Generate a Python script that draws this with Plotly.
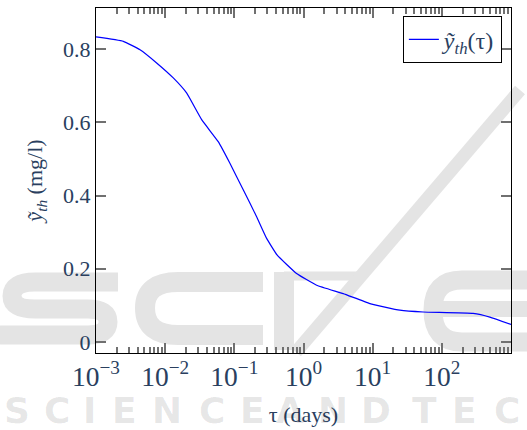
import plotly.graph_objects as go

# Threshold concentration curve vs. time horizon (log scale)
tau = [1e-3, 2.48e-3, 4.33e-3, 7.53e-3, 1.31e-2, 2.04e-2, 3.37e-2, 5.85e-2,
       8.63e-2, 0.135, 0.210, 0.293, 0.417, 0.794, 1.55, 3.75, 9.12,
       24.7, 53.7, 283.0, 494.0, 1000.0]
y_th = [0.833, 0.821, 0.798, 0.762, 0.721, 0.680, 0.607, 0.547,
        0.488, 0.415, 0.342, 0.283, 0.237, 0.187, 0.155, 0.132, 0.105,
        0.087, 0.082, 0.078, 0.068, 0.048]

# plotly writes 10^0 and 10^1 as "1" and "10"; show them as powers too
x_label_alias = {"1": "10<sup>0</sup>", "10": "10<sup>1</sup>"}
y_tickvals = [0, 0.2, 0.4, 0.6, 0.8]
y_ticktext = ["0", "0.2", "0.4", "0.6", "0.8"]

W, H = 527, 430
ML, MR, MT, MB = 96, 16, 8, 77
serif = "Liberation Serif"
tick_grey = "#707070"

fig = go.Figure()
fig.add_trace(go.Scatter(
    x=tau, y=y_th, mode="lines",
    line=dict(color="#0000ff", width=1.2, shape="spline", smoothing=0.35),
    name="<i>ỹ<sub>th</sub></i>(τ)",
))

fig.update_xaxes(
    type="log", range=[-3, 3], tick0=0, dtick=1,
    exponentformat="power", labelalias=x_label_alias,
    ticks="inside", ticklen=10, tickcolor=tick_grey, tickwidth=1.5,
    minor=dict(ticks="inside", ticklen=6, tickcolor=tick_grey, tickwidth=1.5),
    showline=True, linecolor="black", linewidth=1, mirror="ticks",
    showgrid=False,
    tickfont=dict(family=serif, size=22),
    title=dict(text="τ (days)", font=dict(family=serif, size=22)),
)
fig.update_yaxes(
    range=[-0.03, 0.912],
    tickvals=y_tickvals, ticktext=y_ticktext,
    ticks="inside", ticklen=10, tickcolor=tick_grey, tickwidth=1.5,
    showline=True, linecolor="black", linewidth=1, mirror="ticks",
    showgrid=False, zeroline=False,
    tickfont=dict(family=serif, size=22),
    title=dict(text="<i>ỹ<sub>th</sub></i> (mg/l)",
               font=dict(family=serif, size=22), standoff=14),
)


# --- faint publisher logo watermark (pixel positions -> paper coords) ---
def px(x):
    return (x - ML) / (W - ML - MR)


def py(y):
    return (H - MB - y) / (H - MT - MB)


def path(points):
    out = []
    for p in points:
        if p[0] == "Q":
            out.append(f"Q{px(p[1]):.4f},{py(p[2]):.4f} {px(p[3]):.4f},{py(p[4]):.4f}")
        else:
            out.append(f"{p[0]}{px(p[1]):.4f},{py(p[2]):.4f}")
    return " ".join(out)


wm = "#e4e4e4"
strokes = [
    # S
    ([("M", 118, 282), ("L", 35, 282), ("Q", 12, 282, 12, 296), ("Q", 12, 309, 35, 309),
      ("L", 88, 309), ("Q", 108, 309, 108, 322), ("Q", 108, 335, 88, 335), ("L", 0, 335)], 19),
    # C
    ([("M", 263, 282), ("L", 178, 282), ("Q", 145, 282, 145, 308),
      ("Q", 145, 335, 178, 335), ("L", 263, 335)], 20),
    # I
    ([("M", 284, 272), ("L", 284, 350)], 20),
    # T bar
    ([("M", 284, 276), ("L", 362, 276)], 9),
    # slash
    ([("M", 296, 352), ("L", 520, 90)], 13),
    # E
    ([("M", 530, 280), ("L", 462, 280), ("Q", 433, 280, 433, 310),
      ("Q", 433, 342, 462, 342), ("L", 530, 342)], 19),
    ([("M", 440, 309), ("L", 530, 309)], 16),
]
for pts, w in strokes:
    fig.add_shape(type="path", xref="paper", yref="paper", path=path(pts),
                  line=dict(color=wm, width=w), layer="below")

letters = "SCIENCE AND TECHNOLOGY"
centers = [17, 57, 89, 124, 167, 212, 252, None, 290, 333, 376, None,
           424, 464, 507, 550, 590, 630, 670, 710, 750, 790]
for ch, cx in zip(letters, centers):
    if cx is None:
        continue
    fig.add_annotation(text="<b>" + ch + "</b>", xref="paper", yref="paper",
                       x=px(cx), y=py(410), showarrow=False,
                       xanchor="center", yanchor="middle",
                       font=dict(family="DejaVu Sans", size=36, color="rgba(0,0,0,0.1)"))

fig.update_layout(
    width=W, height=H,
    margin=dict(l=ML, r=MR, t=MT, b=MB),
    paper_bgcolor="white", plot_bgcolor="rgba(0,0,0,0)",
    showlegend=True,
    legend=dict(x=0.978, y=0.976, xanchor="right", yanchor="top",
                bordercolor="black", borderwidth=1, bgcolor="white",
                font=dict(family=serif, size=24)),
)

fig.write_html("out.html")
